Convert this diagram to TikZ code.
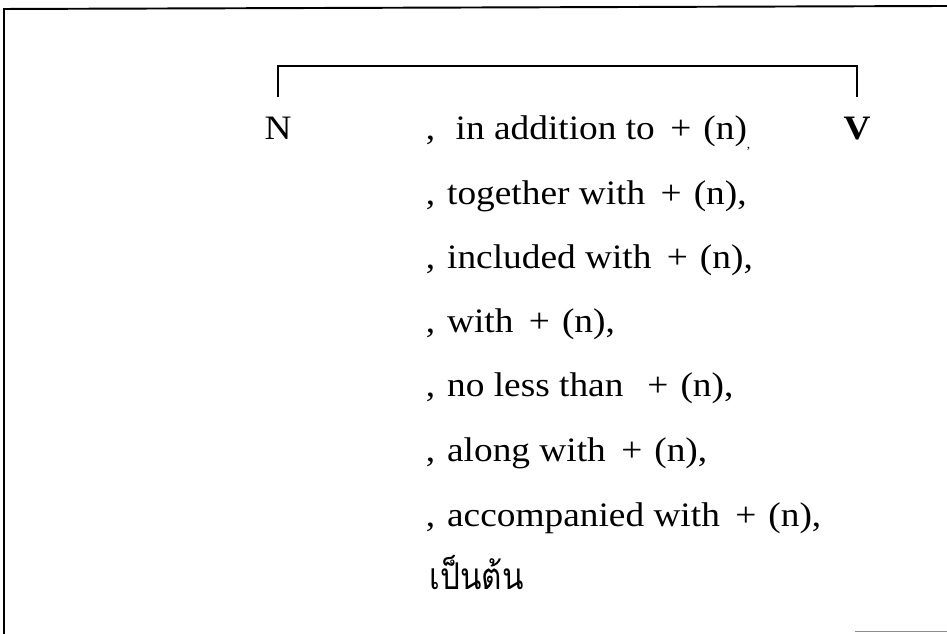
\documentclass[tikz,border=0pt]{standalone}
\usepackage{fontspec}
\setmainfont{Liberation Serif}[FakeStretch=1.09]
\newfontfamily\thaifont[Script=Thai, FakeStretch=0.85]{Loma}
\usetikzlibrary{positioning}

\newcommand{\rowcomma}{,\hspace{0.35em}}
\newcommand{\plusn}{\hspace{0.45em}+\hspace{0.35em}(n)}

\begin{document}
\begin{tikzpicture}[line width=0.9pt,
  txt/.style={font=\fontsize{19.5}{22}\selectfont, inner sep=0pt, anchor=base west},
  sym/.style={font=\fontsize{19.5}{22}\selectfont, inner sep=0pt, anchor=base}]
  \useasboundingbox (0,0) rectangle (18.94,12.68);
  % frame
  \draw[line width=1.1pt] (0.08,0) -- (0.08,12.5) -- (18.94,12.56);
  \draw[line width=1.1pt, black!45] (17.1,0.05) -- (18.94,0.05);
  % N ... V
  \node[sym] (N) at (5.56,9.88) {N};
  \node[sym] (V) at (17.14,9.88) {\bfseries V};
  \draw ([yshift=4mm]N.north) -- ++(0,6.2mm) -| ([yshift=4mm]V.north);
  % the list of phrases
  \node[txt] (r1) at (8.5,9.88) {,\hspace{0.6em}in addition to\plusn\raisebox{-5pt}{\scriptsize,}};
  \node[txt] (r2) at (8.5,8.58) {\rowcomma together with\plusn,};
  \node[txt] (r3) at (8.5,7.30) {\rowcomma included with\plusn,};
  \node[txt] (r4) at (8.5,6.02) {\rowcomma with\plusn,};
  \node[txt] (r5) at (8.5,4.74) {\rowcomma no less than\hspace{0.25em}\plusn,};
  \node[txt] (r6) at (8.5,3.44) {\rowcomma along with\plusn,};
  \node[txt] (r7) at (8.5,2.14) {\rowcomma accompanied with\plusn,};
  \node[txt, font=\fontsize{21}{24}\thaifont] (r8) at (8.58,0.88) {เป็นต้น};
\end{tikzpicture}
\end{document}
